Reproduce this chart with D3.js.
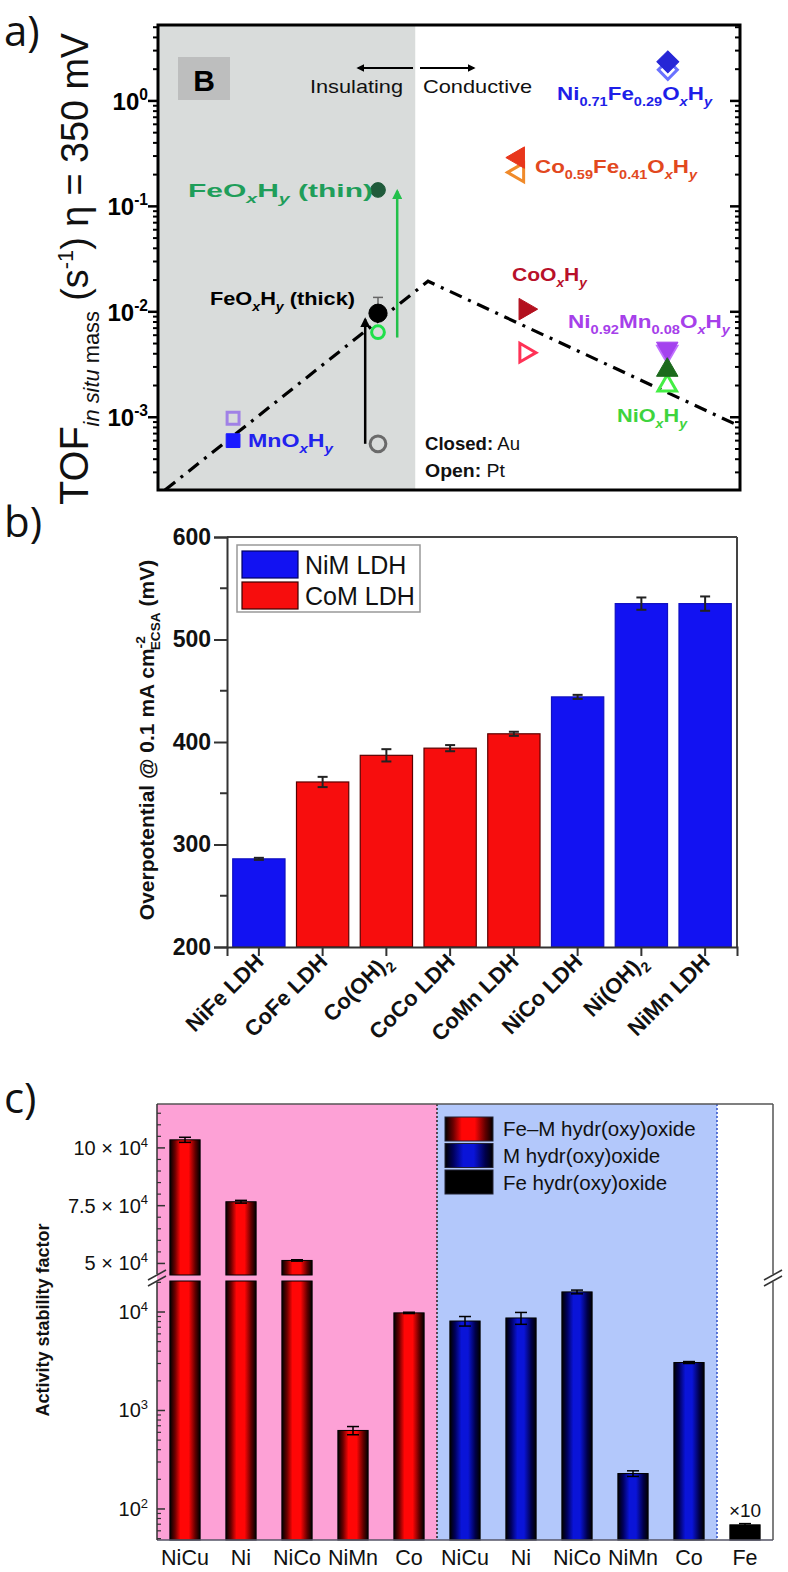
<!DOCTYPE html>
<html><head><meta charset="utf-8">
<script src="https://cdn.jsdelivr.net/npm/d3@7"></script>
<style>body{margin:0;background:#fff}svg{display:block}</style>
</head><body>
<svg id="fig" width="788" height="1572"></svg>
<script>
// ================= DATA =================
// Panel a: TOF (s^-1) at eta = 350 mV vs. position along insulating -> conductive axis
const aMaterial  = ["NiFe","NiFe","CoFe","CoFe","FeThin","FeThin","FeThick","FeThick","Mn","Mn","Co","Co","NiMn","NiMn","Ni","Ni"];
const aSubstrate = ["Pt","Au","Pt","Au","Pt","Au","Pt","Au","Pt","Au","Pt","Au","Pt","Au","Pt","Au"];
const aPosition  = [87.6,87.6,61.9,61.9,37.8,37.8,37.8,37.8,12.9,12.9,63.1,63.1,87.5,87.5,87.5,87.5];
const aTOF       = [1.97,2.35,0.21,0.29,0.0064,0.143,0.00056,0.0097,0.00098,0.00060,0.0041,0.0106,0.0042,0.0045,0.0020,0.0028];
const aTOFerr    = [0,0,0,0,0,0,0,0.004,0,0,0,0,0,0,0,0];
const aTrendPos  = [1.2, 46.4, 100];
const aTrendTOF  = [0.000204, 0.0195, 0.00082];
const aArrowPos  = [35.6, 41.1];
const aArrowFrom = [0.00056, 0.0057];
const aArrowTo   = [0.0085, 0.14];
const aYTicks    = [1e-3, 1e-2, 1e-1, 1];

// Panel b: overpotential @ 0.1 mA cm^-2 ECSA (mV)
const bCategories = ["NiFe LDH","CoFe LDH","Co(OH)2","CoCo LDH","CoMn LDH","NiCo LDH","Ni(OH)2","NiMn LDH"];
const bValues     = [286, 361, 387, 394, 408, 444, 535, 535];
const bErrors     = [1, 5, 6, 3, 2, 2, 6, 7];
const bGroup      = ["NiM","CoM","CoM","CoM","CoM","NiM","NiM","NiM"];
const bLegend     = ["NiM LDH","CoM LDH"];
const bYTicks     = [200, 300, 400, 500, 600];

// Panel c: activity stability factor
const cCategories = ["NiCu","Ni","NiCo","NiMn","Co","NiCu","Ni","NiCo","NiMn","Co","Fe"];
const cValues     = [103500, 76700, 51300, 627, 9800, 8100, 8700, 16000, 229, 3070, 69];
const cErrors     = [1100, 600, 300, 60, 150, 900, 1200, 700, 15, 70, 2];
const cGroup      = ["FeM","FeM","FeM","FeM","FeM","M","M","M","M","M","Fe"];
const cLegend     = ["Fe\u2013M hydr(oxy)oxide","M hydr(oxy)oxide","Fe hydr(oxy)oxide"];
const cUpperTicks = [50000, 75000, 100000];
const cLowerTicks = [100, 1000, 10000];

// ================= HELPERS =================
const FONT = "'Liberation Sans', Arial, Helvetica, sans-serif";
const svg = d3.select("#fig");
const defs = svg.append("defs");

function rich(sel, parts, o) {
  const t = sel.append("text").attr("x", o.x || 0).attr("y", o.y || 0)
    .attr("font-family", o.family || FONT).attr("font-size", o.size)
    .attr("font-weight", o.weight || "normal").attr("fill", o.fill || "#000")
    .attr("text-anchor", o.anchor || "start");
  if (o.transform) t.attr("transform", o.transform);
  let shift = 0;
  parts.forEach(p => {
    if (typeof p === "string") p = {t: p};
    const sz = p.size || ((p.sub || p.sup) ? o.size * 0.65 : o.size);
    const target = p.shift !== undefined ? p.shift : p.sub ? o.size * 0.3 : p.sup ? -o.size * 0.42 : 0;
    const ts = t.append("tspan").text(p.t).attr("font-size", sz).attr("dy", target - shift);
    if (p.dx) ts.attr("dx", p.dx);
    shift = target;
    if (p.i) ts.attr("font-style", "italic");
    if (p.w) ts.attr("font-weight", p.w);
  });
  if (o.len) t.attr("textLength", o.len).attr("lengthAdjust", "spacingAndGlyphs");
  return t;
}
const oxhy = pre => [...pre, "O", {t: "x", sub: 1, i: 1}, "H", {t: "y", sub: 1, i: 1}];

function arrowMarker(id, color) {
  defs.append("marker").attr("id", id).attr("viewBox", "0 0 10 10")
    .attr("refX", 8).attr("refY", 5).attr("markerWidth", 4).attr("markerHeight", 4)
    .attr("orient", "auto-start-reverse")
    .append("path").attr("d", "M0,0 L10,5 L0,10 z").attr("fill", color);
}
arrowMarker("arrBlack", "#000");
arrowMarker("arrGreen", "#22c04a");

function hGrad(id, stops) {
  const g = defs.append("linearGradient").attr("id", id).attr("x1", 0).attr("x2", 1).attr("y1", 0).attr("y2", 0);
  stops.forEach(s => g.append("stop").attr("offset", s[0]).attr("stop-color", s[1]));
}
hGrad("gRed",  [[0,"#000"],[0.17,"#6a0000"],[0.35,"#ff0606"],[0.62,"#ff0606"],[0.84,"#600000"],[1,"#000"]]);
hGrad("gBlue", [[0,"#000"],[0.17,"#00005a"],[0.38,"#0a14d8"],[0.6,"#0a14d8"],[0.84,"#00004a"],[1,"#000"]]);
hGrad("gBlack",[[0,"#000"],[1,"#000"]]);

// ================= PANEL LABELS =================
[["a)", 46], ["b)", 537], ["c)", 1113]].forEach(d =>
  svg.append("text").attr("x", 4).attr("y", d[1]).text(d[0])
    .attr("font-family", "'Open Sans', 'Noto Sans', sans-serif").attr("font-size", 42)
    .attr("font-weight", 500).attr("fill", "#111"));

// ================= PANEL A =================
(function () {
  const L = 158, R = 740, T = 25, B = 490;
  const x = d3.scaleLinear([0, 100], [L, R]);
  const y = d3.scaleLog([Math.pow(10, -3.69), Math.pow(10, 0.72)], [B, T]);
  const g = svg.append("g");
  const clipId = "clipA";
  defs.append("clipPath").attr("id", clipId).append("rect").attr("x", L).attr("y", T).attr("width", R - L).attr("height", B - T);

  // insulating region
  g.append("rect").attr("x", L).attr("y", T).attr("width", x(44.2) - L).attr("height", B - T).attr("fill", "#d9dcdb");
  // "B" box
  g.append("rect").attr("x", L + 20).attr("y", T + 32).attr("width", 52).attr("height", 43).attr("fill", "#bdbebe");
  g.append("text").attr("x", L + 46).attr("y", T + 66).attr("text-anchor", "middle").text("B")
    .attr("font-family", FONT).attr("font-weight", "bold").attr("font-size", 30);

  // ticks (log) left outward, right inward
  const [d0, d1] = y.domain();
  const minor = [];
  for (let e = -4; e <= 0; e++) for (let m = 2; m <= 9; m++) { const v = m * Math.pow(10, e); if (v > d0 && v < d1) minor.push(v); }
  g.selectAll(".amin").data(minor).join("line").attr("x1", L - 5).attr("x2", L).attr("y1", d => y(d)).attr("y2", d => y(d)).attr("stroke", "#000").attr("stroke-width", 2);
  g.selectAll(".amaj").data(aYTicks).join("line").attr("x1", L - 10).attr("x2", L).attr("y1", d => y(d)).attr("y2", d => y(d)).attr("stroke", "#000").attr("stroke-width", 2.5);
  g.selectAll(".arm").data(minor).join("line").attr("x1", R - 5).attr("x2", R).attr("y1", d => y(d)).attr("y2", d => y(d)).attr("stroke", "#000").attr("stroke-width", 2);
  g.selectAll(".arM").data(aYTicks).join("line").attr("x1", R - 10).attr("x2", R).attr("y1", d => y(d)).attr("y2", d => y(d)).attr("stroke", "#000").attr("stroke-width", 2.5);
  aYTicks.forEach(v => {
    const e = Math.round(Math.log10(v));
    rich(g, ["10", {t: String(e), sup: 1}], {x: 148, y: y(v) + 9, size: 24, weight: "bold", anchor: "end"});
  });

  // frame
  g.append("rect").attr("x", L).attr("y", T).attr("width", R - L).attr("height", B - T)
    .attr("fill", "none").attr("stroke", "#000").attr("stroke-width", 3);

  // trend line
  const line = d3.line().x((d, i) => x(aTrendPos[i])).y(d => y(d));
  g.append("path").attr("d", line(aTrendTOF)).attr("clip-path", `url(#${clipId})`)
    .attr("fill", "none").attr("stroke", "#000").attr("stroke-width", 3.2).attr("stroke-dasharray", "13,7,3,7");

  // arrows between substrates
  const arrowCol = ["#000", "#22c04a"], arrowMk = ["arrBlack", "arrGreen"];
  aArrowPos.forEach((p, i) => {
    g.append("line").attr("x1", x(p)).attr("x2", x(p)).attr("y1", y(aArrowFrom[i])).attr("y2", y(aArrowTo[i]))
      .attr("stroke", arrowCol[i]).attr("stroke-width", 2.5).attr("marker-end", `url(#${arrowMk[i]})`);
  });

  // error bars
  aTOF.forEach((v, i) => {
    if (!aTOFerr[i]) return;
    const cx = x(aPosition[i]);
    g.append("line").attr("x1", cx).attr("x2", cx).attr("y1", y(v)).attr("y2", y(v + aTOFerr[i])).attr("stroke", "#666").attr("stroke-width", 1.5);
    g.append("line").attr("x1", cx - 5).attr("x2", cx + 5).attr("y1", y(v + aTOFerr[i])).attr("y2", y(v + aTOFerr[i])).attr("stroke", "#666").attr("stroke-width", 1.5);
  });

  // markers
  const style = {
    NiFe:   {shape: d3.symbolSquare,   size: 240, rot: 45,  au: "#2626d6", pt: "#6a72ff"},
    CoFe:   {shape: d3.symbolTriangle, size: 200, rot: -90, au: "#e8361c", pt: "#f08a2a"},
    FeThin: {shape: d3.symbolCircle,   size: 170, rot: 0,   au: "#1f5a3a", pt: "#1fe04a"},
    FeThick:{shape: d3.symbolCircle,   size: 260, rot: 0,   au: "#000",    pt: "#6a6a6a"},
    Mn:     {shape: d3.symbolSquare,   size: 190, rot: 0,   au: "#1a1aff", pt: "#a081e6"},
    Co:     {shape: d3.symbolTriangle, size: 200, rot: 90,  au: "#b3101e", pt: "#ff3256"},
    NiMn:   {shape: d3.symbolTriangle, size: 200, rot: 180, au: "#a442ee", pt: "#c070ff"},
    Ni:     {shape: d3.symbolTriangle, size: 200, rot: 0,   au: "#1c6a1c", pt: "#44ee44"}
  };
  aTOF.forEach((v, i) => {
    const s = style[aMaterial[i]], closed = aSubstrate[i] === "Au";
    const sym = d3.symbol().type(s.shape).size(closed ? s.size : s.size * 0.75);
    g.append("path").attr("d", sym())
      .attr("transform", `translate(${x(aPosition[i])},${y(v)}) rotate(${s.rot})`)
      .attr("fill", closed ? s.au : "none").attr("stroke", closed ? s.au : s.pt)
      .attr("stroke-width", closed ? 1 : 3);
  });

  // annotations
  const bold = {size: 19, weight: "bold"};
  g.append("line").attr("x1", 413).attr("x2", 358).attr("y1", 68).attr("y2", 68).attr("stroke", "#000").attr("stroke-width", 2).attr("marker-end", "url(#arrBlack)");
  g.append("line").attr("x1", 420).attr("x2", 474).attr("y1", 68).attr("y2", 68).attr("stroke", "#000").attr("stroke-width", 2).attr("marker-end", "url(#arrBlack)");
  rich(g, ["Insulating"], {x: 310, y: 93, size: 19, len: 93, fill: "#111"});
  rich(g, ["Conductive"], {x: 423, y: 93, size: 19, len: 109, fill: "#111"});
  rich(g, oxhy(["Ni", {t: "0.71", sub: 1}, "Fe", {t: "0.29", sub: 1}]), {x: 557, y: 100, ...bold, fill: "#1e1ee8", len: 155});
  rich(g, oxhy(["Co", {t: "0.59", sub: 1}, "Fe", {t: "0.41", sub: 1}]), {x: 535, y: 173, ...bold, fill: "#e2481e", len: 162});
  rich(g, oxhy(["Co"]), {x: 512, y: 281, ...bold, fill: "#b8102a", len: 75});
  rich(g, oxhy(["Ni", {t: "0.92", sub: 1}, "Mn", {t: "0.08", sub: 1}]), {x: 568, y: 328, ...bold, fill: "#a640ea", len: 162});
  rich(g, oxhy(["Ni"]), {x: 617, y: 422, ...bold, fill: "#3ed43e", len: 70});
  rich(g, [...oxhy(["Fe"]), " (thin)"], {x: 188, y: 197, ...bold, fill: "#1f9e5a", len: 185});
  rich(g, [...oxhy(["Fe"]), " (thick)"], {x: 210, y: 305, ...bold, fill: "#000", len: 145});
  rich(g, oxhy(["Mn"]), {x: 248, y: 447, ...bold, fill: "#2222ee", len: 85});
  rich(g, [{t: "Closed:", w: "bold"}, " Au"], {x: 425, y: 450, size: 18, fill: "#111", len: 95});
  rich(g, [{t: "Open:", w: "bold"}, " Pt"], {x: 425, y: 477, size: 18, fill: "#111", len: 80});

  // y title
  rich(svg, [{t: "TOF", size: 40}, {t: "in situ", size: 22, i: 1, shift: 11}, {t: " mass", size: 22, shift: 11},
             {t: " (s", size: 38, shift: 0}, {t: "-1", size: 22, shift: -15}, {t: ") \u03b7 = 350 mV", size: 38, shift: 0}],
    {x: 0, y: 0, size: 38, transform: "translate(88,505) rotate(-90)", len: 472, fill: "#111"});
})();

// ================= PANEL B =================
(function () {
  const L = 227, R = 737, T = 537, B = 947;
  const x = d3.scaleBand(bCategories, [L, R]).paddingInner(0.18).paddingOuter(0.09);
  const y = d3.scaleLinear([200, 600], [B, T]);
  const g = svg.append("g");
  const col = {NiM: "#1212f2", CoM: "#f70d0d"};
  const edge = {NiM: "#1010c0", CoM: "#5a0000"};

  // frame
  g.append("line").attr("x1", L).attr("x2", R).attr("y1", T).attr("y2", T).attr("stroke", "#444").attr("stroke-width", 2);
  g.append("line").attr("x1", R).attr("x2", R).attr("y1", T).attr("y2", B).attr("stroke", "#444").attr("stroke-width", 2);

  // bars
  g.selectAll(".bar").data(bValues).join("rect")
    .attr("x", (d, i) => x(bCategories[i])).attr("width", x.bandwidth())
    .attr("y", d => y(d)).attr("height", d => B - y(d))
    .attr("fill", (d, i) => col[bGroup[i]]).attr("stroke", (d, i) => edge[bGroup[i]]).attr("stroke-width", 1.2);
  // error bars
  bValues.forEach((v, i) => {
    const cx = x(bCategories[i]) + x.bandwidth() / 2;
    const e = bErrors[i];
    g.append("line").attr("x1", cx).attr("x2", cx).attr("y1", y(v - e)).attr("y2", y(v + e)).attr("stroke", "#222").attr("stroke-width", 2);
    [v - e, v + e].forEach(w => g.append("line").attr("x1", cx - 5).attr("x2", cx + 5).attr("y1", y(w)).attr("y2", y(w)).attr("stroke", "#222").attr("stroke-width", 2));
  });

  // axes
  const yAx = d3.axisLeft(y).tickValues(bYTicks).tickSize(13).tickPadding(3).tickFormat(d3.format("d"));
  const ya = g.append("g").attr("transform", `translate(${L},0)`).call(yAx);
  ya.select(".domain").attr("stroke", "#333").attr("stroke-width", 2);
  ya.selectAll(".tick line").attr("stroke", "#333").attr("stroke-width", 2);
  ya.selectAll(".tick text").attr("font-family", FONT).attr("font-size", 23).attr("font-weight", "bold").attr("fill", "#111");
  const minorB = d3.range(250, 600, 100);
  g.selectAll(".bmin").data(minorB).join("line").attr("x1", L - 7).attr("x2", L).attr("y1", d => y(d)).attr("y2", d => y(d)).attr("stroke", "#333").attr("stroke-width", 2);

  const xAx = d3.axisBottom(x).tickSize(9).tickFormat("");
  const xa = g.append("g").attr("transform", `translate(0,${B})`).call(xAx);
  xa.select(".domain").attr("stroke", "#333").attr("stroke-width", 2);
  xa.selectAll(".tick line").attr("stroke", "#333").attr("stroke-width", 2);

  // x labels rotated
  bCategories.forEach(c => {
    const cx = x(c) + x.bandwidth() / 2;
    const m = c.match(/^(.*\(OH\))2$/);
    const parts = m ? [m[1], {t: "2", sub: 1}] : [c];
    rich(g, parts, {x: 0, y: 0, size: 22, weight: "bold", anchor: "end", fill: "#111",
      transform: `translate(${cx + 6},${B + 16}) rotate(-45)`});
  });

  // y title
  rich(svg, ["Overpotential @ 0.1 mA cm", {t: "-2", sup: 1}, {t: "ECSA", sub: 1, dx: -14}, " (mV)"],
    {x: 0, y: 0, size: 21, weight: "bold", anchor: "middle", fill: "#111", transform: "translate(154,740) rotate(-90)"});

  // legend
  const lg = g.append("g");
  lg.append("rect").attr("x", 237).attr("y", 545).attr("width", 183).attr("height", 67).attr("fill", "#fff").attr("stroke", "#999").attr("stroke-width", 1.5);
  bLegend.forEach((name, i) => {
    const key = ["NiM", "CoM"][i];
    lg.append("rect").attr("x", 242).attr("y", 551 + i * 31).attr("width", 56).attr("height", 27)
      .attr("fill", col[key]).attr("stroke", key === "CoM" ? "#3a0000" : "#000060").attr("stroke-width", 1.2);
    lg.append("text").attr("x", 305).attr("y", 574 + i * 31).text(name)
      .attr("font-family", FONT).attr("font-size", 25).attr("fill", "#111");
  });
})();

// ================= PANEL C =================
(function () {
  const L = 157, R = 773, T = 1104, B = 1540, BR1 = 1275, BR2 = 1281;
  const x = d3.scaleBand(d3.range(cCategories.length), [L, R]).paddingInner(0.46).paddingOuter(0.23);
  const yU = d3.scaleLinear([45000, 119000], [BR1, T]);
  const yL = d3.scaleLog([48.4, 20650], [B, BR2]);
  const g = svg.append("g");
  const fillOf = {FeM: "url(#gRed)", M: "url(#gBlue)", Fe: "url(#gBlack)"};

  // background regions
  const b1 = (x(4) + x.bandwidth() + x(5)) / 2, b2 = (x(9) + x.bandwidth() + x(10)) / 2;
  g.append("rect").attr("x", L).attr("y", T).attr("width", b1 - L).attr("height", B - T).attr("fill", "#fda1d6");
  g.append("rect").attr("x", b1).attr("y", T).attr("width", b2 - b1).attr("height", B - T).attr("fill", "#b3c8fb");
  g.append("line").attr("x1", b1).attr("x2", b1).attr("y1", T).attr("y2", B).attr("stroke", "#222").attr("stroke-width", 1.5).attr("stroke-dasharray", "2,2");
  g.append("line").attr("x1", b2).attr("x2", b2).attr("y1", T).attr("y2", B).attr("stroke", "#3050c8").attr("stroke-width", 1.5).attr("stroke-dasharray", "2,2");

  // bars (split at axis break)
  const lowMax = yL.domain()[1], upMin = yU.domain()[0];
  cValues.forEach((v, i) => {
    const bx = x(i), bw = x.bandwidth(), f = fillOf[cGroup[i]], cx = bx + bw / 2;
    const top = Math.min(v, lowMax);
    g.append("rect").attr("x", bx).attr("width", bw).attr("y", yL(top)).attr("height", B - yL(top))
      .attr("fill", f).attr("stroke", "#000").attr("stroke-width", 1);
    let ys;
    if (v > upMin) {
      g.append("rect").attr("x", bx).attr("width", bw).attr("y", yU(v)).attr("height", BR1 - yU(v))
        .attr("fill", f).attr("stroke", "#000").attr("stroke-width", 1);
      ys = [yU(v - cErrors[i]), yU(v + cErrors[i])];
    } else {
      ys = [yL(v - cErrors[i]), yL(v + cErrors[i])];
    }
    g.append("line").attr("x1", cx).attr("x2", cx).attr("y1", ys[0]).attr("y2", ys[1]).attr("stroke", "#000").attr("stroke-width", 1.5);
    ys.forEach(yy => g.append("line").attr("x1", cx - 6).attr("x2", cx + 6).attr("y1", yy).attr("y2", yy).attr("stroke", "#000").attr("stroke-width", 1.5));
  });

  // frame
  g.append("line").attr("x1", L).attr("x2", R).attr("y1", T).attr("y2", T).attr("stroke", "#555").attr("stroke-width", 1.5);
  g.append("line").attr("x1", L).attr("x2", R).attr("y1", B).attr("y2", B).attr("stroke", "#556").attr("stroke-width", 1.5);
  [[T, BR1 - 1], [BR2 + 1, B]].forEach(s => {
    g.append("line").attr("x1", L).attr("x2", L).attr("y1", s[0]).attr("y2", s[1]).attr("stroke", "#333").attr("stroke-width", 1.5);
    g.append("line").attr("x1", R).attr("x2", R).attr("y1", s[0]).attr("y2", s[1]).attr("stroke", "#555").attr("stroke-width", 1.5);
  });
  // break marks
  [L, R].forEach(ax => [-3, 3].forEach(o => g.append("line")
    .attr("x1", ax - 9).attr("x2", ax + 9).attr("y1", (BR1 + BR2) / 2 + o + 5).attr("y2", (BR1 + BR2) / 2 + o - 5)
    .attr("stroke", "#333").attr("stroke-width", 1.5)));

  // ticks inside, upper linear
  const upMinor = d3.range(50000, 119000, 5000).filter(v => !cUpperTicks.includes(v));
  g.selectAll(".cum").data(upMinor).join("line").attr("x1", L).attr("x2", L + 4).attr("y1", d => yU(d)).attr("y2", d => yU(d)).attr("stroke", "#333").attr("stroke-width", 1.2);
  g.selectAll(".cuM").data(cUpperTicks).join("line").attr("x1", L).attr("x2", L + 8).attr("y1", d => yU(d)).attr("y2", d => yU(d)).attr("stroke", "#333").attr("stroke-width", 1.5);
  const loMinor = [];
  for (let e = 1; e <= 4; e++) for (let m = 2; m <= 9; m++) { const v = m * Math.pow(10, e); if (v > yL.domain()[0] && v < lowMax) loMinor.push(v); }
  g.selectAll(".clm").data(loMinor).join("line").attr("x1", L).attr("x2", L + 4).attr("y1", d => yL(d)).attr("y2", d => yL(d)).attr("stroke", "#333").attr("stroke-width", 1.2);
  g.selectAll(".clM").data(cLowerTicks).join("line").attr("x1", L).attr("x2", L + 8).attr("y1", d => yL(d)).attr("y2", d => yL(d)).attr("stroke", "#333").attr("stroke-width", 1.5);

  // tick labels
  cUpperTicks.forEach(v => rich(g, [String(v / 1e4) + " \u00d7 10", {t: "4", sup: 1}], {x: 148, y: yU(v) + 7, size: 20, anchor: "end", fill: "#111"}));
  cLowerTicks.forEach(v => rich(g, ["10", {t: String(Math.round(Math.log10(v))), sup: 1}], {x: 148, y: yL(v) + 7, size: 20, anchor: "end", fill: "#111"}));

  // x labels
  cCategories.forEach((c, i) => g.append("text").attr("x", x(i) + x.bandwidth() / 2).attr("y", 1565).text(c)
    .attr("text-anchor", "middle").attr("font-family", FONT).attr("font-size", 21.5).attr("fill", "#111"));

  // x10 note on Fe bar
  const iFe = cGroup.indexOf("Fe");
  g.append("text").attr("x", x(iFe) + x.bandwidth() / 2).attr("y", yL(cValues[iFe]) - 8).text("\u00d710")
    .attr("text-anchor", "middle").attr("font-family", FONT).attr("font-size", 19).attr("fill", "#111");

  // legend
  const keys = ["FeM", "M", "Fe"];
  cLegend.forEach((name, i) => {
    g.append("rect").attr("x", 445).attr("y", 1117 + i * 26.5).attr("width", 48).attr("height", 24)
      .attr("fill", fillOf[keys[i]]).attr("stroke", "#223").attr("stroke-width", 1);
    g.append("text").attr("x", 503).attr("y", 1136 + i * 27).text(name)
      .attr("font-family", FONT).attr("font-size", 20.5).attr("fill", "#111");
  });

  // y title
  svg.append("text").attr("transform", "translate(49,1320) rotate(-90)").attr("text-anchor", "middle")
    .text("Activity stability factor").attr("font-family", FONT).attr("font-size", 18).attr("font-weight", "bold").attr("fill", "#111");
})();
</script>
</body></html>
